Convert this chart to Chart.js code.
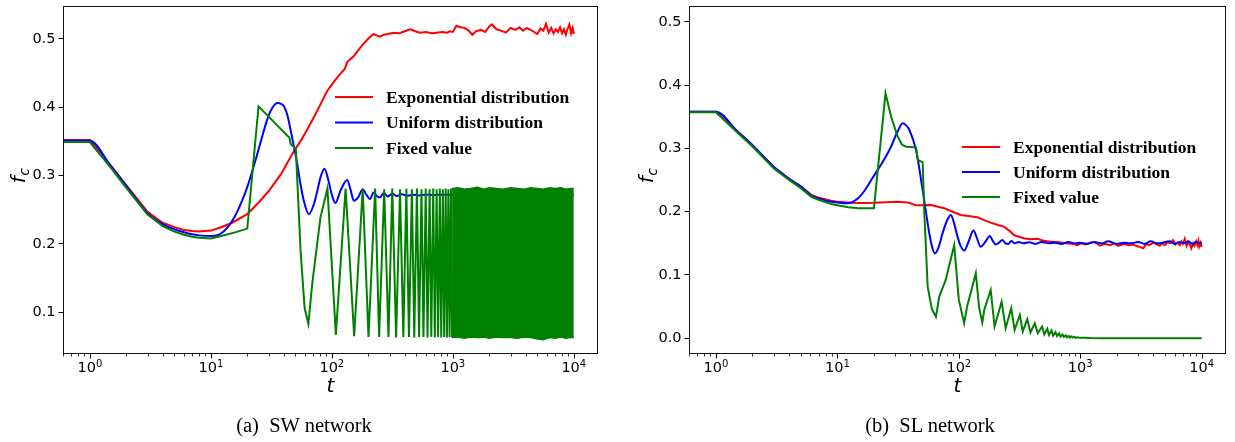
<!DOCTYPE html>
<html>
<head>
<meta charset="utf-8">
<script src="https://cdn.jsdelivr.net/npm/chart.js@4.4.1/dist/chart.umd.min.js"></script>
<style>
html,body{margin:0;padding:0;background:#ffffff;}
#page{position:relative;width:1235px;height:442px;overflow:hidden;background:#fff;}
canvas{position:absolute;top:0;}
#cA{left:0;}
#cB{left:617px;}
.cap{position:absolute;top:413px;height:24px;line-height:24px;font-family:"Liberation Serif","Times New Roman",serif;font-size:20.5px;color:#000;white-space:pre;transform:translateX(-50%);}
</style>
</head>
<body>
<div id="page">
<canvas id="cA" width="617" height="442"></canvas>
<canvas id="cB" width="618" height="442"></canvas>
<div class="cap" style="left:304px">(a)  SW network</div>
<div class="cap" style="left:930px">(b)  SL network</div>
</div>
<script>
// ---------------- labels / ticks ----------------
const seriesLabels = ['Exponential distribution', 'Uniform distribution', 'Fixed value'];
const seriesColors = ['#ff0000', '#0000ff', '#008000'];
const xTickValues = [1, 10, 100, 1000, 10000];
const xTickExponents = ['0', '1', '2', '3', '4'];
const yTickValuesA = [0.1, 0.2, 0.3, 0.4, 0.5];
const yTickValuesB = [0.0, 0.1, 0.2, 0.3, 0.4, 0.5];
const xAxisTitle = 't';
const yAxisTitle = ['f', 'c'];

// ---------------- (a) SW network ----------------
const tA_exp = [0, 1, 1.5, 2, 3, 4, 5, 6, 7, 8,
  10, 12, 15, 20, 25, 30, 38, 48, 55, 62,
  70, 80, 91, 100, 110, 118, 128, 134, 142, 151,
  165, 183, 200, 221, 235, 250, 270, 290, 323, 360,
  400, 443, 490, 535, 600, 670, 733, 820, 900, 944,
  1000, 1070, 1150, 1250, 1350, 1450, 1550, 1700, 1850, 2000,
  2100, 2300, 2500, 2750, 3000, 3300, 3550, 3800, 4100, 4400,
  4700, 5000, 5300, 5600, 5900, 6200, 6500, 6800, 7100, 7400,
  7700, 8000, 8300, 8600, 8900, 9200, 9500, 9800, 10000];
const fA_exp = [0.352, 0.352, 0.314, 0.286, 0.247, 0.231, 0.2245, 0.2205, 0.219, 0.218,
  0.2195, 0.224, 0.231, 0.2435, 0.261, 0.277, 0.302, 0.334, 0.350, 0.366,
  0.383, 0.403, 0.423, 0.433, 0.443, 0.449, 0.456, 0.466, 0.470, 0.474,
  0.483, 0.493, 0.500, 0.507, 0.505, 0.503, 0.506, 0.507, 0.509, 0.508,
  0.511, 0.514, 0.511, 0.509, 0.510, 0.508, 0.509, 0.510, 0.509, 0.511,
  0.510, 0.519, 0.517, 0.516, 0.512, 0.506, 0.511, 0.513, 0.510, 0.518,
  0.521, 0.514, 0.512, 0.509, 0.516, 0.513, 0.517, 0.512, 0.516, 0.513,
  0.510, 0.507, 0.515, 0.512, 0.522, 0.509, 0.516, 0.508, 0.514, 0.510,
  0.517, 0.508, 0.514, 0.506, 0.515, 0.521, 0.508, 0.516, 0.507];

const tA_uni = [0, 1, 1.5, 2, 3, 4, 5, 6, 7, 8,
  10, 11.5, 12.9, 14, 15.6, 18, 20, 23, 26, 29,
  31.3, 35.5, 38, 40.3, 43, 45.7, 48.5, 51.8, 55, 58.7,
  64.6, 71, 76, 80.5, 86.9, 94, 100, 107, 118, 134,
  143, 152, 165, 180, 193, 207, 221, 235, 250, 268,
  290, 315, 345, 380, 420, 470, 530, 600, 700, 800,
  1000, 2000, 5000, 10000];
const fA_uni = [0.351, 0.351, 0.313, 0.285, 0.245, 0.229, 0.2215, 0.217, 0.214, 0.2125,
  0.2115, 0.213, 0.219, 0.226, 0.2385, 0.262, 0.283, 0.318, 0.351, 0.380,
  0.395, 0.406, 0.405, 0.401, 0.388, 0.366, 0.343, 0.317, 0.288, 0.263,
  0.2435, 0.258, 0.278, 0.297, 0.310, 0.292, 0.272, 0.260, 0.278, 0.2935,
  0.279, 0.263, 0.268, 0.280, 0.272, 0.2655, 0.2753, 0.270, 0.268, 0.2745,
  0.2695, 0.2735, 0.270, 0.2725, 0.2705, 0.272, 0.271, 0.272, 0.2715, 0.272,
  0.272, 0.272, 0.272, 0.272];

const tA_fix = [0, 1, 1.5, 2, 3, 4, 5, 6, 7, 8,
  10, 12.2, 15.6, 20, 24.8, 29.4, 35.5, 42.7, 44.5, 45.7,
  50.4, 55.2, 59.6, 64, 68.8, 80.5, 92, 108, 130, 153,
  180, 201, 228, 246, 271, 294, 316, 340, 366, 390,
  413, 434, 459, 480, 505, 526, 551, 572, 597, 618,
  643, 664, 689, 710, 735, 756, 781, 802, 827, 848,
  873, 894, 919, 940, 965, 986];
const fA_fix = [0.349, 0.349, 0.311, 0.282, 0.243, 0.226, 0.218, 0.2135, 0.2105, 0.209,
  0.208, 0.2116, 0.2165, 0.2224, 0.401, 0.388, 0.373, 0.3585, 0.356, 0.346,
  0.339, 0.1893, 0.1063, 0.083, 0.141, 0.2385, 0.281, 0.067, 0.281, 0.065,
  0.280, 0.064, 0.281, 0.064, 0.280, 0.064, 0.281, 0.063, 0.280, 0.064,
  0.281, 0.064, 0.280, 0.063, 0.281, 0.064, 0.280, 0.064, 0.281, 0.063,
  0.280, 0.064, 0.281, 0.063, 0.280, 0.064, 0.281, 0.063, 0.280, 0.064,
  0.281, 0.063, 0.280, 0.064, 0.281, 0.063];
// dense oscillation beyond ~10^3: upper / lower extent of the green band
const tA_fixBand = [986, 1100, 1250, 1400, 1600, 1800, 2000, 2300, 2600, 3000,
  3400, 3900, 4400, 5000, 5600, 6300, 7000, 7800, 8600, 9300, 10000];
const fA_fixBandHigh = [0.281, 0.282, 0.280, 0.281, 0.283, 0.280, 0.282, 0.281, 0.280, 0.282,
  0.281, 0.280, 0.282, 0.281, 0.280, 0.282, 0.281, 0.282, 0.280, 0.281, 0.281];
const fA_fixBandLow = [0.063, 0.064, 0.062, 0.064, 0.063, 0.064, 0.062, 0.064, 0.063, 0.063,
  0.062, 0.064, 0.063, 0.061, 0.060, 0.063, 0.062, 0.064, 0.062, 0.063, 0.063];

// ---------------- (b) SL network ----------------
const tB_exp = [0, 1, 1.5, 2, 3, 4, 5, 6.1, 7, 8.9,
  10, 13, 16, 20, 25, 31, 35, 38, 41, 44,
  50, 59, 66, 76, 90, 104, 120, 142, 160, 183,
  210, 235, 260, 284, 303, 343, 389, 442, 500, 568,
  645, 760, 881, 940, 1020, 1100, 1200, 1300, 1460, 1600,
  1750, 1900, 2050, 2300, 2500, 2700, 3000, 3300, 3500, 3700,
  4000, 4200, 4500, 4700, 5000, 5200, 5500, 5800, 6100, 6300,
  6600, 6800, 7000, 7250, 7500, 7700, 8000, 8220, 8500, 8700,
  9000, 9200, 9400, 9550, 9800, 10000];
const fB_exp = [0.358, 0.358, 0.327, 0.305, 0.2705, 0.252, 0.240, 0.2265, 0.222, 0.2173,
  0.2158, 0.214, 0.2135, 0.214, 0.215, 0.2157, 0.215, 0.2145, 0.2125, 0.210,
  0.2102, 0.2105, 0.208, 0.2053, 0.1995, 0.1947, 0.193, 0.191, 0.187, 0.1826,
  0.179, 0.1763, 0.170, 0.163, 0.161, 0.158, 0.1563, 0.157, 0.154, 0.1526,
  0.152, 0.150, 0.149, 0.147, 0.150, 0.148, 0.151, 0.152, 0.1463, 0.149,
  0.147, 0.150, 0.146, 0.149, 0.147, 0.148, 0.145, 0.142, 0.149, 0.147,
  0.151, 0.149, 0.146, 0.150, 0.147, 0.152, 0.150, 0.155, 0.148, 0.151,
  0.147, 0.153, 0.149, 0.157, 0.146, 0.152, 0.148, 0.142, 0.150, 0.146,
  0.153, 0.147, 0.154, 0.145, 0.151, 0.144];

const tB_uni = [0, 1, 1.5, 2, 3, 4, 5, 6.1, 7, 8.9,
  10, 11.9, 13.2, 14.8, 17, 19, 21.5, 24.4, 27.7, 31.4,
  34.5, 37, 39.2, 44.4, 50.4, 57.1, 60.5, 63.6, 68, 73.5,
  80, 86, 91, 97.5, 104, 110.6, 120, 132, 141, 151,
  165, 180, 190, 201, 214, 228, 242, 256, 270, 290,
  310, 340, 380, 430, 480, 550, 620, 700, 800, 900,
  1000, 1150, 1300, 1500, 1700, 2000, 2300, 2600, 3000, 3400,
  3800, 4300, 4800, 5400, 6000, 6600, 7200, 7800, 8400, 9000,
  9500, 10000];
const fB_uni = [0.358, 0.358, 0.327, 0.305, 0.2705, 0.252, 0.2395, 0.2255, 0.221, 0.2157,
  0.2145, 0.2132, 0.215, 0.221, 0.235, 0.25, 0.266, 0.283, 0.303, 0.327,
  0.3395, 0.336, 0.329, 0.2974, 0.234, 0.1658, 0.143, 0.134, 0.143, 0.166,
  0.186, 0.1947, 0.183, 0.1605, 0.145, 0.1384, 0.152, 0.170, 0.158, 0.1447,
  0.152, 0.1616, 0.154, 0.148, 0.151, 0.155, 0.150, 0.149, 0.1535, 0.150,
  0.152, 0.150, 0.1515, 0.149, 0.152, 0.150, 0.151, 0.149, 0.152, 0.150,
  0.151, 0.149, 0.152, 0.150, 0.153, 0.149, 0.151, 0.150, 0.152, 0.149,
  0.153, 0.150, 0.151, 0.153, 0.149, 0.152, 0.150, 0.153, 0.149, 0.152,
  0.150, 0.151];

const tB_fix = [0, 1, 1.5, 2, 3, 4, 5, 6.1, 7, 8.9,
  10, 12.3, 15, 20, 24.9, 27.7, 31.4, 34, 36.8, 44.4,
  46, 50.4, 52, 55.4, 60, 64.8, 69, 78, 91.6, 100,
  110.6, 117, 138, 147, 156, 162, 183, 197, 225, 243,
  270, 288, 318, 336, 366, 389, 422, 447, 485, 505,
  535, 553, 580, 598, 625, 643, 670, 688, 715, 733,
  760, 778, 805, 823, 850, 870, 900, 920, 950, 1000,
  1100, 1200, 1500, 3000, 10000];
const fB_fix = [0.357, 0.357, 0.325, 0.303, 0.268, 0.250, 0.237, 0.2235, 0.2185, 0.212,
  0.210, 0.2068, 0.2055, 0.2053, 0.387, 0.350, 0.3184, 0.306, 0.3026, 0.3016,
  0.2816, 0.278, 0.1974, 0.0815, 0.046, 0.0341, 0.0657, 0.092, 0.147, 0.0605,
  0.0237, 0.050, 0.1026, 0.048, 0.0247, 0.045, 0.0763, 0.0184, 0.0578, 0.0158,
  0.0474, 0.0132, 0.0368, 0.0105, 0.030, 0.009, 0.0237, 0.008, 0.0184, 0.006,
  0.015, 0.005, 0.012, 0.004, 0.0095, 0.0035, 0.0075, 0.0025, 0.006, 0.002,
  0.0045, 0.0015, 0.0035, 0.001, 0.0028, 0.0008, 0.002, 0.0005, 0.0015, 0.0005,
  0.0008, 0.0002, 0.0, 0.0, 0.0];

// ---------------- helpers ----------------
function pts(t, v) { return t.map((x, i) => ({ x: x, y: v[i] })); }

const decor = {
  id: 'decor',
  afterDraw(chart, args, o) {
    const ctx = chart.ctx, a = chart.chartArea, xs = chart.scales.x;
    ctx.save();
    ctx.strokeStyle = '#000';
    ctx.fillStyle = '#000';
    // minor x ticks
    ctx.lineWidth = 0.8;
    ctx.beginPath();
    for (let k = -1; k <= 4; k++) {
      for (let m = 2; m <= 9; m++) {
        const v = m * Math.pow(10, k);
        if (v < xs.min || v > xs.max) continue;
        const p = Math.round(xs.getPixelForValue(v)) + 0.5;
        ctx.moveTo(p, a.bottom); ctx.lineTo(p, a.bottom + 2.5);
      }
    }
    ctx.stroke();
    // major x ticks
    ctx.lineWidth = 1;
    ctx.beginPath();
    xTickValues.forEach(v => {
      const p = Math.round(xs.getPixelForValue(v)) + 0.5;
      ctx.moveTo(p, a.bottom); ctx.lineTo(p, a.bottom + 4.5);
    });
    ctx.stroke();
    // major x tick labels 10^k
    ctx.textAlign = 'left';
    ctx.textBaseline = 'alphabetic';
    xTickValues.forEach((v, i) => {
      const p = xs.getPixelForValue(v);
      ctx.font = "14.5px 'DejaVu Sans'";
      const wb = ctx.measureText('10').width;
      ctx.font = "10px 'DejaVu Sans'";
      const we = ctx.measureText(xTickExponents[i]).width;
      const x0 = p - (wb + we) / 2;
      ctx.font = "14.5px 'DejaVu Sans'";
      ctx.fillText('10', x0, a.bottom + 18);
      ctx.font = "10px 'DejaVu Sans'";
      ctx.fillText(xTickExponents[i], x0 + wb, a.bottom + 12.7);
    });
    // frame
    ctx.lineWidth = 1;
    ctx.strokeStyle = '#111';
    ctx.strokeRect(a.left + 0.5, a.top + 0.5, a.right - a.left - 1, a.bottom - a.top - 1);
    // x title
    ctx.font = "italic 20px 'DejaVu Sans'";
    ctx.textAlign = 'center';
    ctx.fillText(xAxisTitle, (a.left + a.right) / 2, a.bottom + 38);
    // y title f_c
    ctx.save();
    ctx.translate(a.left - o.yTitleDx, o.yTitleY);
    ctx.rotate(-Math.PI / 2);
    ctx.textAlign = 'left';
    ctx.font = "italic 20px 'DejaVu Sans'";
    const wf = ctx.measureText(yAxisTitle[0]).width;
    ctx.font = "italic 14px 'DejaVu Sans'";
    const wc = ctx.measureText(yAxisTitle[1]).width;
    const s = -(wf + wc) / 2;
    ctx.font = "italic 20px 'DejaVu Sans'";
    ctx.fillText(yAxisTitle[0], s, 0);
    ctx.font = "italic 14px 'DejaVu Sans'";
    ctx.fillText(yAxisTitle[1], s + wf + 0.5, 4);
    ctx.restore();
    // legend
    const L = o.legend;
    ctx.font = "bold 17.5px 'Liberation Serif'";
    ctx.textAlign = 'left';
    ctx.textBaseline = 'middle';
    for (let i = 0; i < 3; i++) {
      const ds = chart.data.datasets[i];
      const y = a.top + L.dy0 + i * L.dyStep;
      ctx.strokeStyle = ds.borderColor;
      ctx.lineWidth = 2;
      ctx.beginPath();
      ctx.moveTo(a.right - L.dxLine, y);
      ctx.lineTo(a.right - L.dxLine + L.lineLen, y);
      ctx.stroke();
      ctx.fillStyle = '#000';
      ctx.fillText(ds.label, a.right - L.dxText, y + 1);
    }
    ctx.restore();
  }
};

function lineDs(label, color, data, order, smooth) {
  return {
    label: label, data: data, borderColor: color, backgroundColor: color,
    borderWidth: 2, pointRadius: 0, fill: false, order: order,
    tension: 0, cubicInterpolationMode: smooth ? 'monotone' : 'default'
  };
}

function makeChart(id, c) {
  const datasets = [
    lineDs(seriesLabels[0], seriesColors[0], pts(c.tExp, c.fExp), 3, false),
    lineDs(seriesLabels[1], seriesColors[1], pts(c.tUni, c.fUni), 2, true),
    lineDs(seriesLabels[2], seriesColors[2], pts(c.tFix, c.fFix), 1, false)
  ];
  if (c.band) {
    datasets.push({ label: 'band-high', data: pts(c.band.t, c.band.hi), borderColor: seriesColors[2],
      borderWidth: 1.5, pointRadius: 0, fill: false, order: 0, tension: 0 });
    datasets.push({ label: 'band-low', data: pts(c.band.t, c.band.lo), borderColor: seriesColors[2],
      backgroundColor: seriesColors[2], borderWidth: 1.5, pointRadius: 0, fill: '-1', order: 0, tension: 0 });
  }
  return new Chart(document.getElementById(id), {
    type: 'line',
    data: { datasets: datasets },
    plugins: [decor],
    options: {
      responsive: false,
      animation: false,
      events: [],
      parsing: { xAxisKey: 'x', yAxisKey: 'y' },
      layout: { padding: { top: 6, right: c.padRight, bottom: 88, left: 0 } },
      plugins: {
        legend: { display: false },
        tooltip: { enabled: false },
        decor: { legend: c.legend, yTitleDx: c.yTitleDx, yTitleY: 176 }
      },
      scales: {
        x: {
          type: 'logarithmic', display: false,
          min: Math.pow(10, -0.2), max: Math.pow(10, 4.2)
        },
        y: {
          type: 'linear', min: c.yMin, max: c.yMax,
          afterBuildTicks: (s) => { s.ticks = c.yTicks.map(v => ({ value: v })); },
          afterFit: (s) => { s.width = c.yWidth; s.paddingTop = 0; s.paddingBottom = 0; },
          border: { display: false },
          grid: { drawOnChartArea: false, drawTicks: true, tickLength: 4.5, color: '#000', tickWidth: 1 },
          ticks: {
            color: '#000', padding: 3,
            font: { family: 'DejaVu Sans', size: 14.5 },
            callback: (v) => Number(v).toFixed(1)
          }
        }
      }
    }
  });
}

makeChart('cA', {
  tExp: tA_exp, fExp: fA_exp, tUni: tA_uni, fUni: fA_uni, tFix: tA_fix, fFix: fA_fix,
  band: { t: tA_fixBand, hi: fA_fixBandHigh, lo: fA_fixBandLow },
  yTicks: yTickValuesA, yMin: 0.039, yMax: 0.548, yWidth: 63, padRight: 19,
  yTitleDx: 38,
  legend: { dxLine: 263, lineLen: 38, dxText: 212, dy0: 91, dyStep: 25.5 }
});
makeChart('cB', {
  tExp: tB_exp, fExp: fB_exp, tUni: tB_uni, fUni: fB_uni, tFix: tB_fix, fFix: fB_fix,
  band: null,
  yTicks: yTickValuesB, yMin: -0.025, yMax: 0.525, yWidth: 72, padRight: 9,
  yTitleDx: 36,
  legend: { dxLine: 264, lineLen: 38, dxText: 213, dy0: 141, dyStep: 25 }
});
</script>
</body>
</html>
